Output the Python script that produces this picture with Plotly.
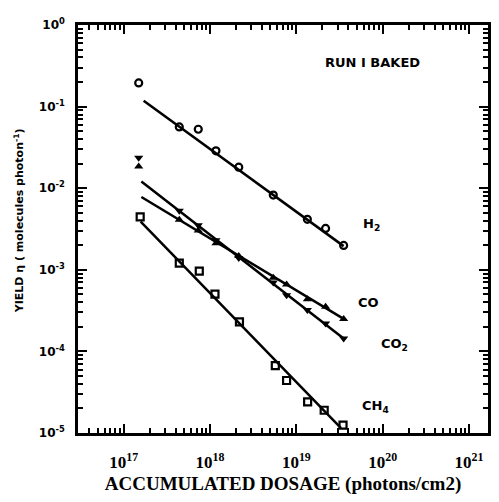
import plotly.graph_objects as go

# ---- data ----
h2_dose = [1.49e17, 4.4e17, 7.3e17, 1.17e18, 2.15e18, 5.4e18, 1.34e19, 2.18e19, 3.53e19]
h2_yield = [0.195, 0.0564, 0.0528, 0.0287, 0.0181, 0.00824, 0.00415, 0.00321, 0.00199]

co_dose = [1.49e17, 4.4e17, 7.3e17, 1.17e18, 2.15e18, 5.4e18, 7.7e18, 1.34e19, 2.18e19, 3.53e19]
co_yield = [0.0184, 0.00411, 0.00303, 0.00211, 0.00148, 0.00080, 0.00066, 0.000436, 0.000353, 0.00025]

co2_dose = [1.49e17, 4.4e17, 7.3e17, 1.17e18, 2.15e18, 5.4e18, 7.7e18, 1.34e19, 2.18e19, 3.53e19]
co2_yield = [0.0236, 0.00528, 0.00352, 0.0023, 0.0014, 0.000697, 0.000486, 0.000321, 0.00022, 0.000144]

ch4_dose = [1.55e17, 4.4e17, 7.5e17, 1.14e18, 2.19e18, 5.7e18, 7.7e18, 1.35e19, 2.1e19, 3.47e19]
ch4_yield = [0.00444, 0.00121, 0.000964, 0.000504, 0.00023, 6.7e-05, 4.4e-05, 2.4e-05, 1.9e-05, 1.25e-05]

# fit lines (endpoints)
h2_fit_dose = [1.70e17, 3.53e19]
h2_fit_yield = [0.118, 0.00195]
co_fit_dose = [1.60e17, 3.53e19]
co_fit_yield = [0.0078, 0.00025]
co2_fit_dose = [1.60e17, 3.53e19]
co2_fit_yield = [0.0121, 0.000144]
ch4_fit_dose = [1.57e17, 3.29e19]
ch4_fit_yield = [0.0039, 1.15e-05]

x_tickvals = [1e17, 1e18, 1e19, 1e20, 1e21]
x_ticktext = ["<b>10<sup>17</sup></b>", "<b>10<sup>18</sup></b>", "<b>10<sup>19</sup></b>",
              "<b>10<sup>20</sup></b>", "<b>10<sup>21</sup></b>"]
y_tickvals = [1, 0.1, 0.01, 0.001, 0.0001, 0.00001]
y_ticktext = ["<b>10<sup>0</sup></b>", "<b>10<sup>-1</sup></b>", "<b>10<sup>-2</sup></b>",
              "<b>10<sup>-3</sup></b>", "<b>10<sup>-4</sup></b>", "<b>10<sup>-5</sup></b>"]
x_minor_vals = [m * 10.0 ** e for e in range(16, 22) for m in range(2, 10)
                if 2.95e16 <= m * 10.0 ** e <= 1.66e21]
y_minor_vals = [m * 10.0 ** e for e in range(-5, 0) for m in range(2, 10)]

fig = go.Figure()

line_style = dict(color="black", width=2.5)
for fx, fy in [(h2_fit_dose, h2_fit_yield), (co_fit_dose, co_fit_yield),
               (co2_fit_dose, co2_fit_yield), (ch4_fit_dose, ch4_fit_yield)]:
    fig.add_trace(go.Scatter(x=fx, y=fy, mode="lines", line=line_style,
                             showlegend=False, hoverinfo="skip"))

fig.add_trace(go.Scatter(x=h2_dose, y=h2_yield, mode="markers", name="H2",
                         marker=dict(symbol="circle-open", size=7, color="black",
                                     line=dict(width=2.2, color="black"))))
fig.add_trace(go.Scatter(x=co_dose, y=co_yield, mode="markers", name="CO",
                         marker=dict(symbol="triangle-up", size=8, color="black")))
fig.add_trace(go.Scatter(x=co2_dose, y=co2_yield, mode="markers", name="CO2",
                         marker=dict(symbol="triangle-down", size=8, color="black")))
fig.add_trace(go.Scatter(x=ch4_dose, y=ch4_yield, mode="markers", name="CH4",
                         marker=dict(symbol="square-open", size=7, color="black",
                                     line=dict(width=2.2, color="black"))))

axis_common = dict(
    showline=True, linecolor="black", linewidth=2.5, mirror="allticks",
    ticks="inside", ticklen=9, tickwidth=2, tickcolor="black",
    showgrid=False, zeroline=False,
)

fig.update_xaxes(type="log", range=[16.47, 21.22], tickvals=x_tickvals, ticktext=x_ticktext,
                 tickfont=dict(family="Liberation Serif", size=17, color="black"),
                 ticklabelstandoff=12,
                 minor=dict(tickmode="array", tickvals=x_minor_vals, ticks="inside",
                            ticklen=5, tickwidth=1.5, tickcolor="black", showgrid=False),
                 title=dict(text="<b>ACCUMULATED DOSAGE (photons/cm2)</b>",
                            font=dict(family="Liberation Serif", size=19, color="black"),
                            standoff=6),
                 **axis_common)
fig.update_yaxes(type="log", range=[-5, 0], tickvals=y_tickvals, ticktext=y_ticktext,
                 tickfont=dict(family="DejaVu Sans", size=12, color="black"),
                 ticklabelstandoff=8,
                 minor=dict(tickmode="array", tickvals=y_minor_vals, ticks="inside",
                            ticklen=5, tickwidth=1.5, tickcolor="black", showgrid=False),
                 **axis_common)

labels = [
    ("<b>RUN I BAKED</b>", 0.719, 0.909, 13),
    ("<b>H<sub>2</sub></b>", 0.716, 0.51, 13),
    ("<b>CO</b>", 0.709, 0.320, 13),
    ("<b>CO<sub>2</sub></b>", 0.772, 0.218, 13),
    ("<b>CH<sub>4</sub></b>", 0.726, 0.065, 13),
]
for txt, xp, yp, sz in labels:
    fig.add_annotation(text=txt, x=xp, y=yp, xref="paper", yref="paper",
                       showarrow=False, xanchor="center", yanchor="middle",
                       font=dict(family="DejaVu Sans", size=sz, color="black"))

fig.add_annotation(text="<b>YIELD η ( molecules photon<sup>-1</sup>)</b>",
                   x=-0.143, y=0.52, xref="paper", yref="paper", textangle=-90,
                   showarrow=False, xanchor="center", yanchor="middle",
                   font=dict(family="DejaVu Sans", size=11, color="black"))

# the page body has an 8px margin, so the figure is shrunk to fit the window
fig.update_layout(width=491, height=494, margin=dict(l=70, r=8, t=9, b=69),
                  plot_bgcolor="white", paper_bgcolor="white", showlegend=False)

fig.write_html("out.html")
